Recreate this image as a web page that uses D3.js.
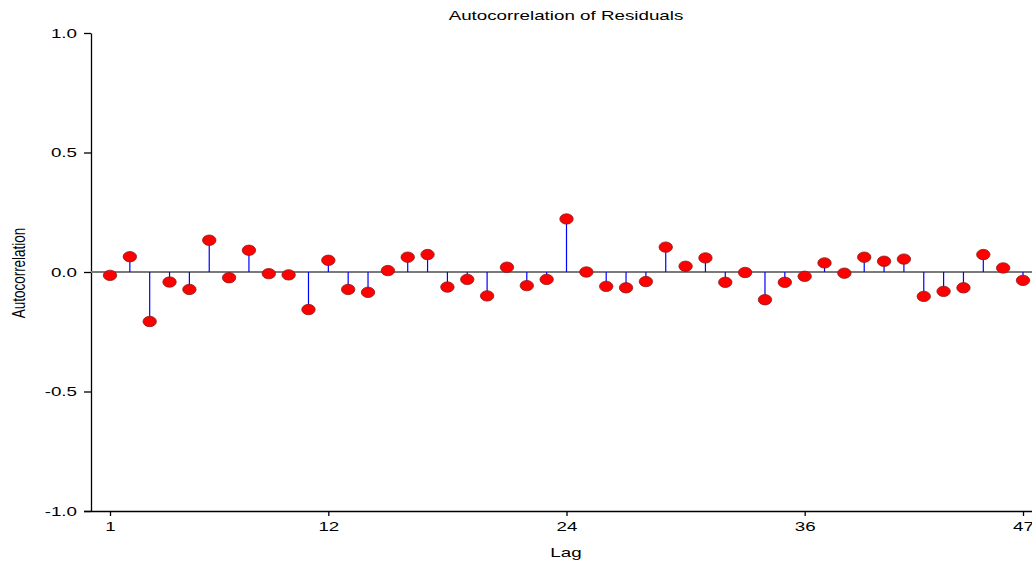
<!DOCTYPE html>
<html>
<head>
<meta charset="utf-8">
<script src="https://cdn.jsdelivr.net/npm/d3@7"></script>
<style>
  body { margin: 0; background: #fff; }
  svg text { font-family: "Liberation Sans", Arial, sans-serif; fill: #000; }
</style>
</head>
<body>
<div id="chart"></div>
<script>
const lags = d3.range(1, 48);
const acf = [
  -0.014, 0.064, -0.207, -0.042, -0.073, 0.133, -0.024, 0.091, -0.007, -0.012,
  -0.157, 0.049, -0.073, -0.085, 0.006, 0.062, 0.073, -0.063, -0.031, -0.100,
  0.020, -0.057, -0.031, 0.222, 0.000, -0.060, -0.066, -0.040, 0.104, 0.024,
  0.059, -0.043, -0.002, -0.116, -0.043, -0.018, 0.038, -0.005, 0.062, 0.045,
  0.054, -0.102, -0.081, -0.066, 0.073, 0.017, -0.035
];
const xTicks = [1, 12, 24, 36, 47];
const yTicks = [-1.0, -0.5, 0.0, 0.5, 1.0];

const W = 1032, H = 562;
const stretch = 1.39;   // the picture's text is drawn wide
const data = lags.map((lag, i) => ({ lag, value: acf[i] }));

const svg = d3.select("#chart")
    .append("svg")
    .attr("width", W)
    .attr("height", H);

const x = d3.scaleLinear()
    .domain([1, 47])
    .range([110, 1023]);

const y = d3.scaleLinear()
    .domain([-1, 1])
    .range([511, 33]);

function widen(sel) {
    sel.each(function () {
        const w = this.getComputedTextLength();
        d3.select(this)
            .attr("textLength", w * stretch)
            .attr("lengthAdjust", "spacingAndGlyphs");
    });
}

// title
svg.append("text")
    .attr("x", 566)
    .attr("y", 20)
    .attr("text-anchor", "middle")
    .style("font-size", "13.5px")
    .text("Autocorrelation of Residuals")
    .call(widen);

// y axis
const yAxis = svg.append("g")
    .attr("transform", "translate(91,0)")
    .call(d3.axisLeft(y)
        .tickValues(yTicks)
        .tickFormat(d => d3.format(".1f")(d).replace("−", "-"))
        .tickSize(7)
        .tickPadding(7)
        .tickSizeOuter(0));
yAxis.select(".domain").attr("stroke", "#000").attr("stroke-width", 1.3);
yAxis.selectAll("line").attr("stroke", "#000").attr("stroke-width", 1.3);
yAxis.selectAll("text")
    .style("font-size", "13.5px")
    .style("font-family", "'Liberation Sans', Arial, sans-serif")
    .call(widen);

// x axis
const xAxis = svg.append("g")
    .attr("transform", "translate(0,511)")
    .call(d3.axisBottom(x)
        .tickValues(xTicks)
        .tickFormat(d3.format("d"))
        .tickSize(5)
        .tickPadding(5)
        .tickSizeOuter(0));
xAxis.select(".domain")
    .attr("d", `M84,0.5H${W}`)
    .attr("stroke", "#000")
    .attr("stroke-width", 1.3);
xAxis.selectAll("line").attr("stroke", "#000").attr("stroke-width", 1.3);
xAxis.selectAll("text")
    .style("font-size", "13.5px")
    .style("font-family", "'Liberation Sans', Arial, sans-serif")
    .call(widen);

// axis titles
svg.append("text")
    .attr("x", 566)
    .attr("y", 557)
    .attr("text-anchor", "middle")
    .style("font-size", "13.5px")
    .text("Lag")
    .call(widen);

svg.append("text")
    .attr("transform", `translate(25,${y(0) + 1}) scale(${stretch},1) rotate(-90)`)
    .attr("text-anchor", "middle")
    .style("font-size", "13.5px")
    .text("Autocorrelation");

// zero line
svg.append("line")
    .attr("x1", 91)
    .attr("x2", W)
    .attr("y1", y(0))
    .attr("y2", y(0))
    .attr("stroke", "#7a7a7a")
    .attr("stroke-width", 1.8);

// stems
svg.selectAll(".stem")
    .data(data)
    .enter()
    .append("line")
    .attr("class", "stem")
    .attr("x1", d => x(d.lag))
    .attr("x2", d => x(d.lag))
    .attr("y1", y(0))
    .attr("y2", d => y(d.value))
    .attr("stroke", "#0000ff")
    .attr("stroke-width", 1.2);

// markers
svg.selectAll(".point")
    .data(data)
    .enter()
    .append("ellipse")
    .attr("class", "point")
    .attr("cx", d => x(d.lag))
    .attr("cy", d => y(d.value))
    .attr("rx", 6.7)
    .attr("ry", 5.2)
    .attr("fill", "#ff0000")
    .attr("stroke", "#8b1a1a")
    .attr("stroke-width", 0.8);
</script>
</body>
</html>
